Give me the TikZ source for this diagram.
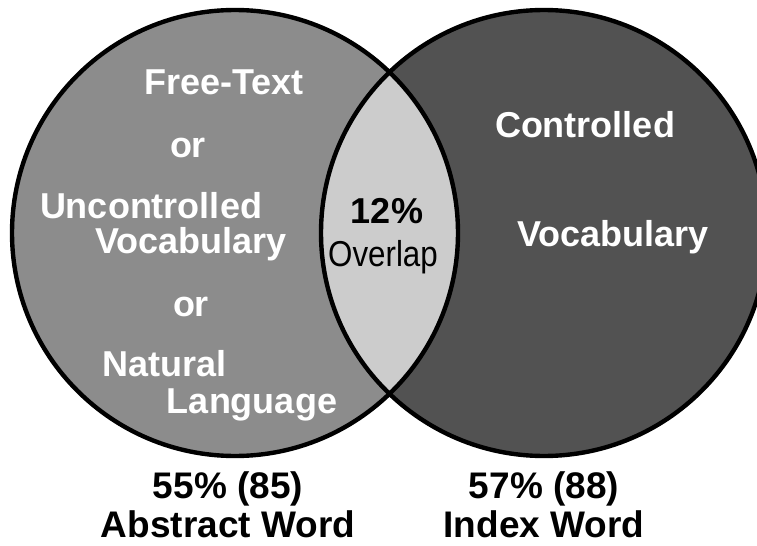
\documentclass[tikz,border=0pt]{standalone}
\usepackage{fontspec}
\setmainfont{Liberation Sans}
\usetikzlibrary{positioning}
\definecolor{abstractgray}{gray}{0.55}
\definecolor{indexgray}{gray}{0.32}
\definecolor{overlapgray}{gray}{0.80}
\tikzset{
  circletext/.style={text=white,font=\fontsize{18}{20}\selectfont\bfseries,anchor=base,inner sep=0pt},
  lenstext/.style={text=black,font=\fontsize{18}{20}\selectfont,anchor=base,inner sep=0pt},
  countlabel/.style={align=center,font=\fontsize{18.5}{19.5}\selectfont\bfseries,anchor=base,inner sep=0pt}
}

\begin{document}
\begin{tikzpicture}[x=0.5pt,y=-0.5pt]
        \clip (0,0) rectangle (757,546);
        \fill[white] (0,0) rectangle (757,546);
        \coordinate (abscenter) at (235,233);
        \coordinate (idxcenter) at (544,233);
        \fill[abstractgray] (abscenter) circle (111.5pt);
        \fill[indexgray] (idxcenter) circle (111.5pt);
        \begin{scope}
            \clip (abscenter) circle (111.5pt);
            \fill[overlapgray] (idxcenter) circle (111.5pt);
        \end{scope}
        \draw[line width=2.2pt] (abscenter) circle (111.5pt);
        \draw[line width=2.2pt] (idxcenter) circle (111.5pt);
        % left circle
        \node[circletext] (freetext) at (224,95) {Free-Text};
        \node[circletext] (orone) at (188,157) {or};
        \node[circletext] (uncontrolled) at (151,218) {Uncontrolled};
        \node[circletext] (vocableft) at (191,253) {Vocabulary};
        \node[circletext] (ortwo) at (191,316) {or};
        \node[circletext] (natural) at (165,376) {Natural};
        \node[circletext] (language) at (252,413) {Language};
        % right circle
        \node[circletext] (controlled) at (585,137) {Controlled};
        \node[circletext] (vocabright) at (613,246) {Vocabulary};
        % overlap
        \node[lenstext,font=\fontsize{18}{20}\selectfont\bfseries] (percent) at (387,223) {12\%};
        \node[lenstext,xscale=0.87,transform shape] (overlap) at (383,266) {Overlap};
        % counts
        \node[countlabel] (abstractword) at (228,537) {55\% (85)\\Abstract Word};
        \node[countlabel] (indexword) at (544,537) {57\% (88)\\Index Word};
\end{tikzpicture}
\end{document}
